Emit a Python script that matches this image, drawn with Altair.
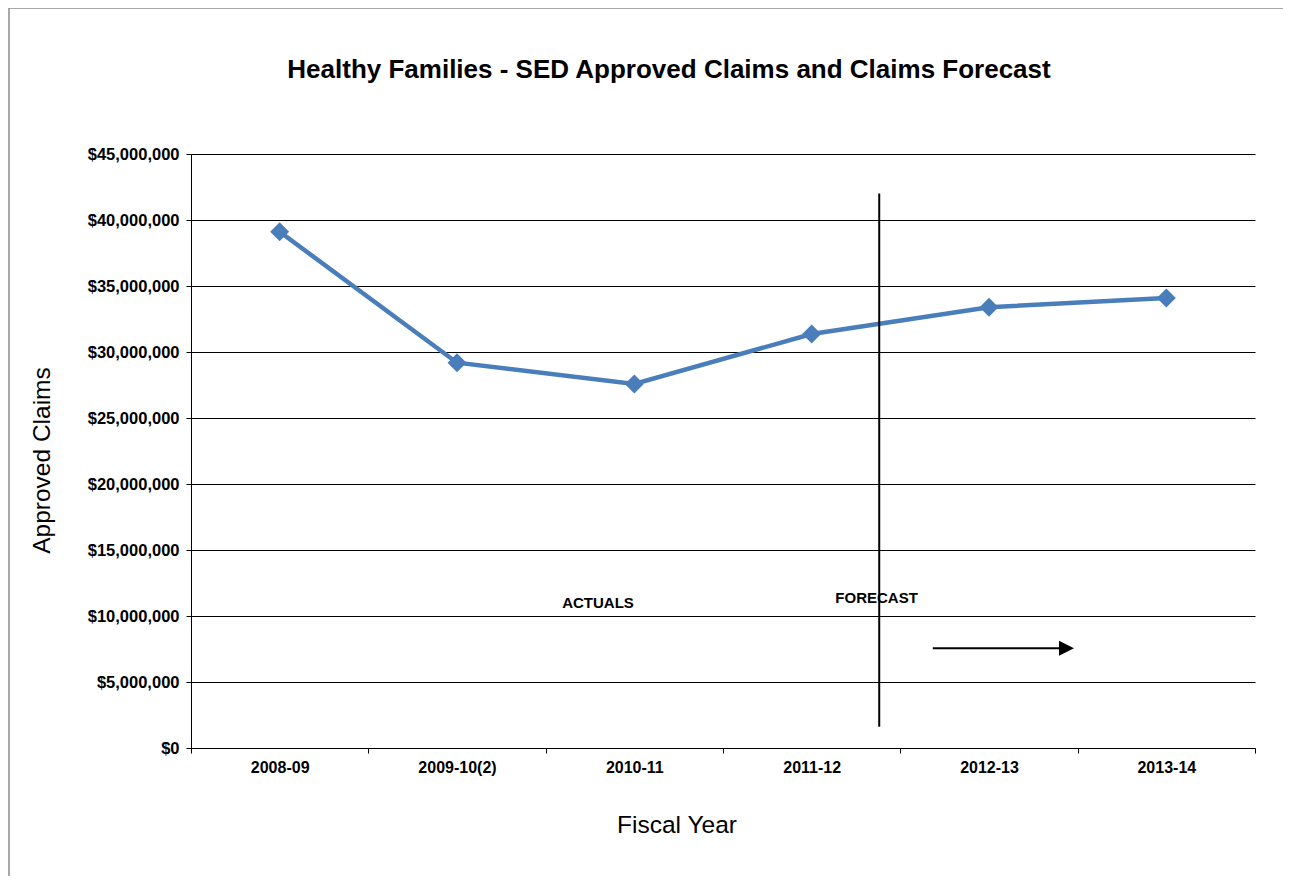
import altair as alt
import pandas as pd

# ---- data ----
years = ["2008-09", "2009-10(2)", "2010-11", "2011-12", "2012-13", "2013-14"]
claims = [39110000, 29190000, 27580000, 31360000, 33390000, 34090000]
y_ticks = [0, 5000000, 10000000, 15000000, 20000000, 25000000,
           30000000, 35000000, 40000000, 45000000]

# annotation positions (x in category units 0..6 across the plot, y in dollars)
label_text = ["ACTUALS", "FORECAST"]
label_x = [2.295, 3.866]
label_y = [10630000, 11010000]
divider_x = [3.881]
divider_y1 = [1610000]
divider_y2 = [42000000]
arrow_x = [4.183, 4.911]
arrow_y = [7550000, 7550000]
arrowhead_x = [4.937]
arrowhead_y = [7550000]

FONT = "Liberation Sans"
BLUE = "#4A7EBB"

df = pd.DataFrame({"year": years, "claims": claims})
lab = pd.DataFrame({"ax": label_x, "claims": label_y, "text": label_text})
div = pd.DataFrame({"ax": divider_x, "claims": divider_y1, "claims2": divider_y2})
arr = pd.DataFrame({"ax": arrow_x, "claims": arrow_y})
head = pd.DataFrame({"ax": arrowhead_x, "claims": arrowhead_y})

y_scale = alt.Scale(domain=[0, 45000000], nice=False, zero=True)
y_axis = alt.Axis(
    values=y_ticks, format="$,.0f", grid=True, gridColor="#000000", gridWidth=1,
    domainColor="#000000", domainWidth=1, tickColor="#000000", tickSize=5,
    labelFont=FONT, labelFontSize=16.5, labelFontWeight="bold", labelColor="#000000",
    labelPadding=7, title="Approved Claims", titleFont=FONT, titleFontSize=24.5,
    titleFontWeight="normal", titleColor="#000000", titleAngle=-90,
    titleAlign="center", titleBaseline="alphabetic", titleX=-142, titleY=306,
)
Y = alt.Y("claims:Q", scale=y_scale, axis=y_axis)

x_cat = alt.X(
    "year:N", sort=years,
    scale=alt.Scale(type="band", paddingInner=0, paddingOuter=0),
    axis=alt.Axis(
        labelAngle=0, grid=False, tickBand="extent", domainColor="#000000",
        domainWidth=1, tickColor="#000000", tickSize=5, labelFont=FONT,
        labelFontSize=16, labelFontWeight="bold", labelColor="#000000",
        labelPadding=6, title="Fiscal Year", titleFont=FONT, titleFontSize=24.5,
        titleFontWeight="normal", titleColor="#000000", titleAlign="center",
        titleBaseline="alphabetic", titleX=485.5, titleY=84,
    ),
)
x_ann = alt.X("ax:Q", scale=alt.Scale(domain=[0, 6], nice=False, zero=False), axis=None)

line = alt.Chart(df).mark_line(color=BLUE, strokeWidth=4.5).encode(x=x_cat, y=Y)
pts = alt.Chart(df).mark_point(shape="diamond", filled=True, size=360, color=BLUE,
                               opacity=1).encode(x=x_cat, y=Y)

main = alt.layer(line, pts)

divider = alt.Chart(div).mark_rule(color="#000000", strokeWidth=2).encode(
    x=x_ann, y=Y, y2="claims2:Q")
labels = alt.Chart(lab).mark_text(font=FONT, fontSize=15, fontWeight="bold",
                                  color="#000000", baseline="alphabetic",
                                  align="center").encode(x=x_ann, y=Y, text="text:N")
arrow = alt.Chart(arr).mark_line(color="#000000", strokeWidth=2).encode(x=x_ann, y=Y)
arrowhead = alt.Chart(head).mark_point(shape="M-1,-1L1,0L-1,1Z", filled=True,
                                       size=225, color="#000000", opacity=1).encode(x=x_ann, y=Y)
border = alt.Chart(pd.DataFrame({"a": [0]})).mark_rect(
    fillOpacity=0, stroke="#8c8c8c", strokeWidth=1.5).encode(
    x=alt.value(-182), x2=alt.value(1200), y=alt.value(-146), y2=alt.value(800))

ann = alt.layer(divider, labels, arrow, arrowhead)

chart = alt.layer(main, ann, border).resolve_scale(x="independent").properties(
    width=1064, height=594,
    autosize=alt.AutoSizeParams(type="none"),
    padding={"left": 183, "top": 146, "right": 28, "bottom": 128},
    background="#ffffff",
    title=alt.TitleParams(
        "Healthy Families - SED Approved Claims and Claims Forecast",
        font=FONT, fontSize=26, fontWeight="bold", color="#000000",
        anchor="middle", frame="group", dx=-54, offset=-97, baseline="alphabetic",
    ),
).configure_view(strokeWidth=0)

chart.save("out.html", embed_options={"renderer": "svg", "actions": False})
